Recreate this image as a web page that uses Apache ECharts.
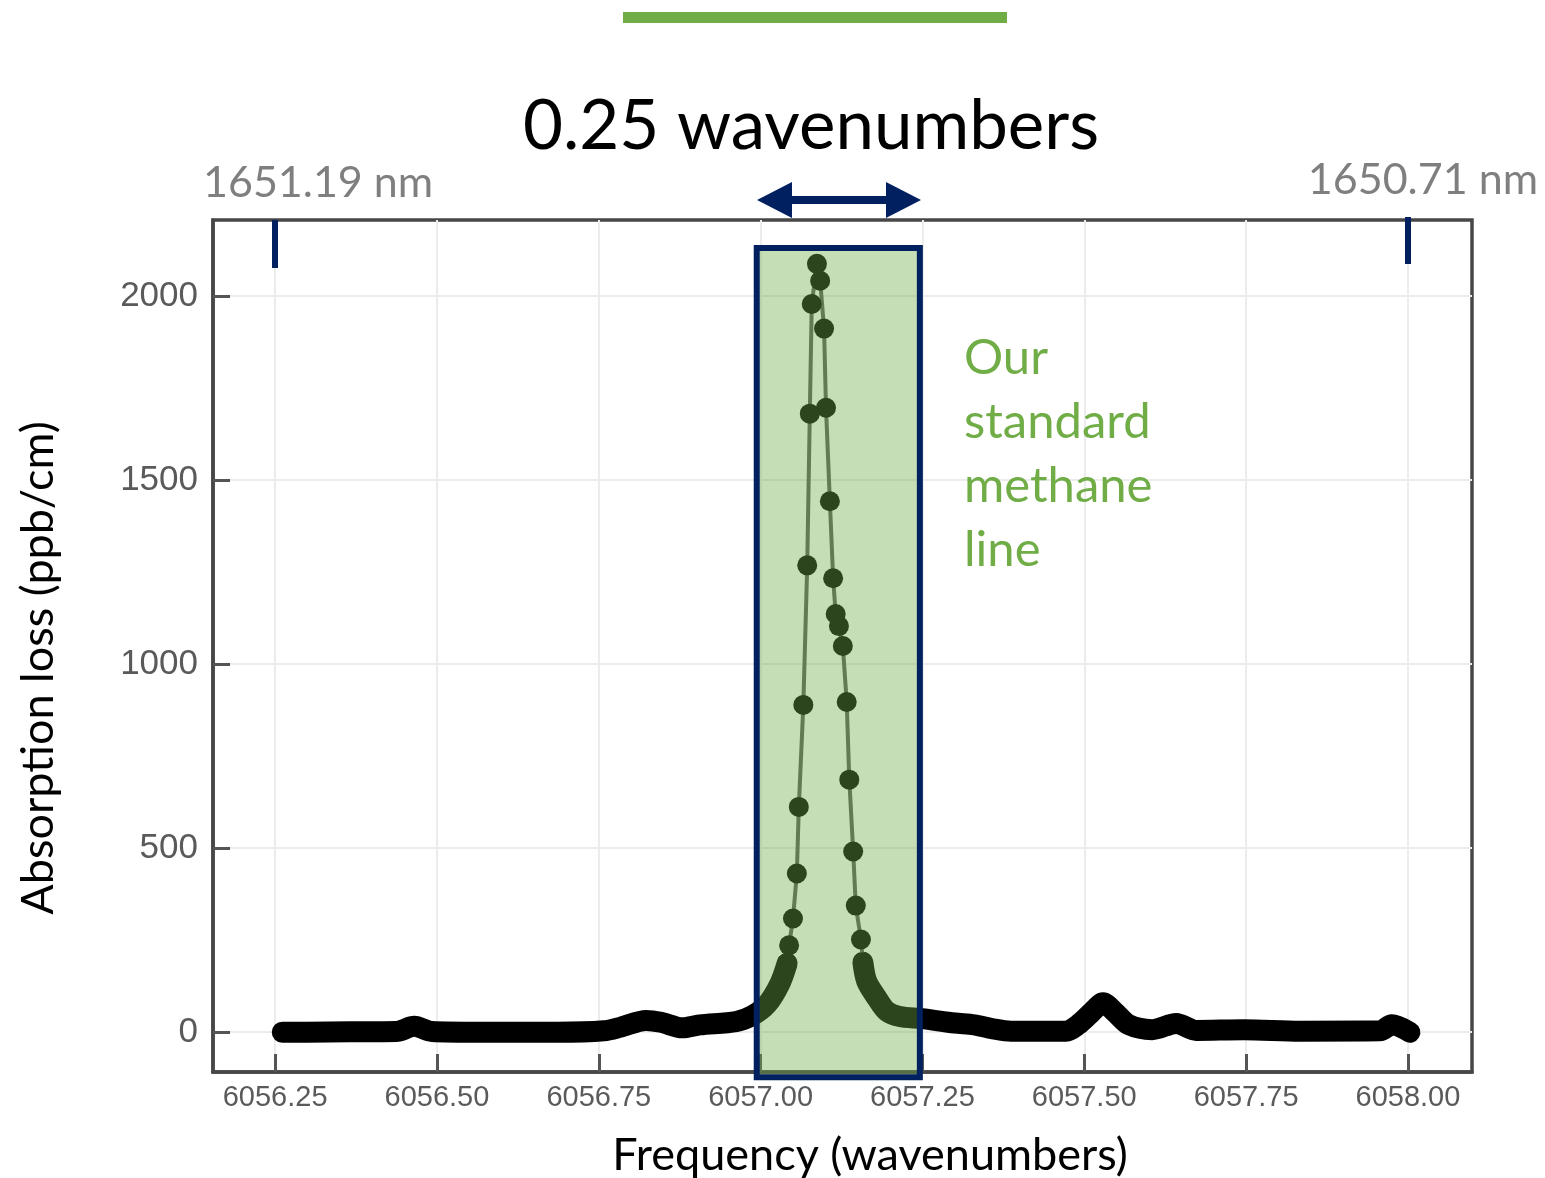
<!DOCTYPE html>
<html>
<head>
<meta charset="utf-8">
<script src="https://cdn.jsdelivr.net/npm/echarts@6/dist/echarts.min.js"></script>
<style>
  html, body { margin: 0; padding: 0; background: #fff; }
  #main { width: 1545px; height: 1178px; }
</style>
</head>
<body>
<div id="main"></div>
<script>
// baseline left of the line (thick band of merged points)
var leftFreq = [6056.261, 6056.299, 6056.366, 6056.437, 6056.465, 6056.492, 6056.567, 6056.686, 6056.758, 6056.784, 6056.823, 6056.846, 6056.879, 6056.906, 6056.962, 6056.987, 6057.010, 6057.030, 6057.041];
var leftLoss = [0, 0, 1, 2, 16, 2, 0, 0, 4, 14, 32, 27, 12, 20, 29, 45, 76, 133, 187];
// resolved points of the methane line
var peakFreq = [6057.041, 6057.044, 6057.050, 6057.056, 6057.059, 6057.066, 6057.072, 6057.076, 6057.079, 6057.087, 6057.092, 6057.098, 6057.101, 6057.107, 6057.112, 6057.116, 6057.121, 6057.127, 6057.133, 6057.137, 6057.143, 6057.147, 6057.155, 6057.158];
var peakLoss = [187, 236, 309, 431, 612, 889, 1268, 1680, 1978, 2087, 2041, 1911, 1696, 1442, 1233, 1136, 1103, 1049, 897, 686, 491, 344, 252, 190];
// baseline right of the line
var rightFreq = [6057.158, 6057.164, 6057.180, 6057.195, 6057.215, 6057.249, 6057.300, 6057.330, 6057.357, 6057.387, 6057.472, 6057.490, 6057.512, 6057.529, 6057.547, 6057.569, 6057.605, 6057.642, 6057.673, 6057.747, 6057.833, 6057.957, 6057.975, 6058.003];
var rightLoss = [190, 138, 92, 57, 43, 37, 25, 20, 10, 3, 3, 20, 55, 80, 55, 20, 7, 24, 5, 7, 3, 4, 20, 0];

var xTicks = [6056.25, 6056.5, 6056.75, 6057, 6057.25, 6057.5, 6057.75, 6058];
var yTicks = [0, 500, 1000, 1500, 2000];
var bandRange = [6056.994, 6057.246];
var bandLoss = [-122, 2130];

function pairs(xs, ys) {
  return xs.map(function (x, i) { return [x, ys[i]]; });
}

var myChart = echarts.init(document.getElementById('main'));

var bandLine = {
  type: 'line',
  symbol: 'none',
  smooth: 0.3,
  lineStyle: { color: '#000', width: 21, cap: 'round', join: 'round' },
  z: 3
};

myChart.setOption({
  animation: false,
  grid: {
    left: 213, top: 220, width: 1259, height: 852,
    show: true, borderColor: '#474747', borderWidth: 3.5, backgroundColor: '#fff'
  },
  xAxis: {
    type: 'value',
    min: 6056.154, max: 6058.099,
    axisLine: { onZero: false, lineStyle: { color: '#474747', width: 3.5 } },
    axisTick: { inside: true, length: 18, customValues: xTicks, lineStyle: { color: '#555', width: 3 } },
    axisLabel: {
      customValues: xTicks, margin: 11,
      color: '#5a5a5a', fontSize: 29, fontFamily: 'Liberation Sans',
      formatter: function (v) { return v.toFixed(2); }
    },
    splitLine: { show: true, lineStyle: { color: '#ececec', width: 2 } }
  },
  yAxis: {
    type: 'value',
    min: -108, max: 2206,
    axisLine: { lineStyle: { color: '#474747', width: 3.5 } },
    axisTick: { inside: true, length: 17, customValues: yTicks, lineStyle: { color: '#555', width: 3 } },
    axisLabel: {
      customValues: yTicks, margin: 15,
      color: '#5a5a5a', fontSize: 35, fontFamily: 'Liberation Sans',
      formatter: function (v) { return String(v); }
    },
    splitLine: { show: true, lineStyle: { color: '#ececec', width: 2 } }
  },
  series: [
    Object.assign({ name: 'left', data: pairs(leftFreq, leftLoss) }, bandLine),
    Object.assign({ name: 'right', data: pairs(rightFreq, rightLoss) }, bandLine),
    {
      name: 'peak',
      type: 'line',
      data: pairs(peakFreq, peakLoss),
      symbol: 'circle',
      symbolSize: 20,
      showAllSymbol: true,
      itemStyle: { color: '#000' },
      lineStyle: { color: '#5a5a5a', width: 4 },
      z: 4
    }
  ]
});

// annotation box over the standard line
var p0 = myChart.convertToPixel({ gridIndex: 0 }, [bandRange[0], bandLoss[1]]);
var p1 = myChart.convertToPixel({ gridIndex: 0 }, [bandRange[1], bandLoss[0]]);
var navy = '#002060';
var green = '#70ad47';

myChart.setOption({
  graphic: [
    { type: 'rect', shape: { x: 623, y: 12, width: 384, height: 11 }, style: { fill: green } },
    {
      type: 'text', x: 811, y: 127,
      style: { text: '0.25 wavenumbers', fill: '#000', font: '69px Lato', align: 'center', verticalAlign: 'middle' }
    },
    {
      type: 'polygon',
      shape: { points: [[757, 200], [792, 182], [792, 196], [886, 196], [886, 182], [921, 200], [886, 218], [886, 204], [792, 204], [792, 218]] },
      style: { fill: navy }
    },
    {
      type: 'text', x: 203, y: 183,
      style: { text: '1651.19 nm', fill: '#7f7f7f', font: '43px Lato', verticalAlign: 'middle' }
    },
    {
      type: 'text', x: 1538, y: 180,
      style: { text: '1650.71 nm', fill: '#7f7f7f', font: '43px Lato', align: 'right', verticalAlign: 'middle' }
    },
    { type: 'rect', shape: { x: 272, y: 220, width: 6, height: 48 }, style: { fill: navy }, z: 20 },
    { type: 'rect', shape: { x: 1405, y: 217, width: 6, height: 47 }, style: { fill: navy }, z: 20 },
    {
      type: 'rect', z: 10,
      shape: { x: p0[0], y: p0[1], width: p1[0] - p0[0], height: p1[1] - p0[1] },
      style: { fill: 'rgba(112,173,71,0.4)', stroke: navy, lineWidth: 6 }
    },
    {
      type: 'text', x: 964, y: 326,
      style: { text: 'Our\nstandard\nmethane\nline', fill: green, font: '49px Lato', lineHeight: 64 }
    },
    {
      type: 'text', x: 870, y: 1155,
      style: { text: 'Frequency (wavenumbers)', fill: '#000', font: '45px Lato', align: 'center', verticalAlign: 'middle' }
    },
    {
      type: 'text', x: 38, y: 668, rotation: Math.PI / 2,
      style: { text: 'Absorption loss (ppb/cm)', fill: '#000', font: '45px Lato', align: 'center', verticalAlign: 'middle' }
    }
  ]
});
</script>
</body>
</html>
